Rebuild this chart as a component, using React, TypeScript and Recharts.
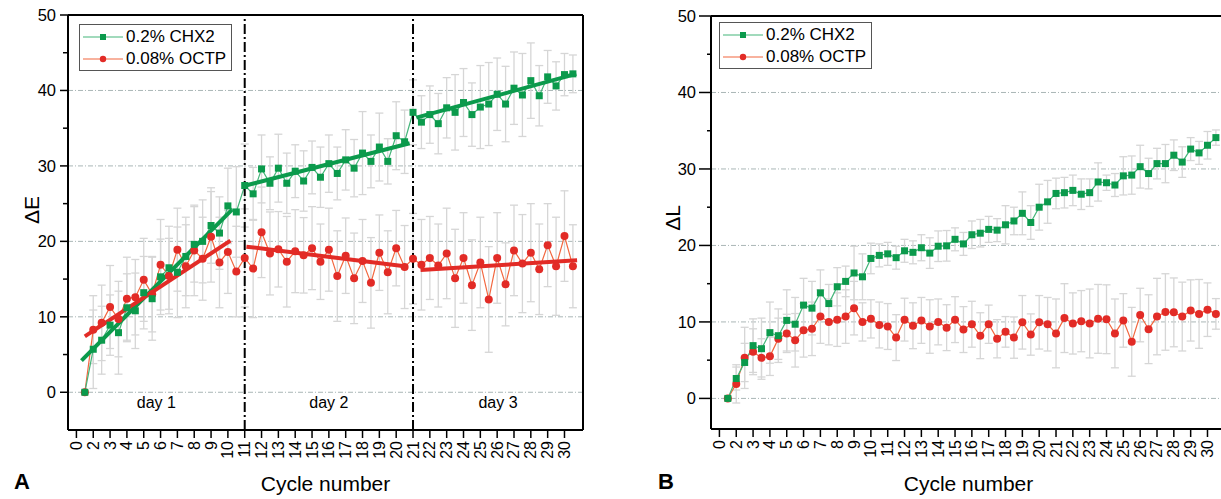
import React from 'react';
import { LineChart, Line, XAxis, YAxis, ErrorBar, ReferenceLine, ReferenceArea, Label } from 'recharts';

const xTickLabels = ['0', '2', '3', '4', '5', '6', '7', '8', '9', '10', '11', '12', '13', '14', '15', '16', '17', '18', '19', '20', '21', '22', '23', '24', '25', '26', '27', '28', '29', '30'];
const seriesNames = ['0.2% CHX2', '0.08% OCTP'];
const yTicks = [0, 5, 10, 15, 20, 25, 30, 35, 40, 45, 50];
const gridValues = [0, 10, 20, 30, 40];

// panel A: ΔE
const chxE = [0, 5.7, 6.9, 8.9, 7.9, 11.2, 10.8, 13.2, 12.4, 15.3, 16.5, 15.9, 18.0, 19.6, 20.0, 22.1, 21.1, 24.7, 23.9, 27.4,
  26.3, 29.6, 27.7, 29.7, 27.7, 29.3, 28.0, 29.8, 28.5, 30.3, 29.0, 30.8, 29.7, 31.7, 30.6, 32.5, 30.6, 34.0, 33.2, 37.1,
  35.8, 36.8, 35.6, 37.7, 37.1, 38.4, 36.8, 37.8, 38.2, 39.5, 38.2, 40.3, 39.4, 41.3, 39.3, 41.8, 40.6, 42.1, 42.2];
const chxEErr = [0, 5.2, 4.5, 4.0, 5.5, 4.5, 5.0, 4.8, 5.5, 5.0, 5.5, 6.0, 5.2, 5.0, 5.5, 5.0, 4.8, 5.0, 6.0, 5.5,
  3.5, 4.5, 3.5, 4.5, 4.0, 3.5, 4.0, 3.5, 4.0, 3.8, 3.5, 4.0, 3.8, 5.5, 3.5, 4.5, 3.0, 4.5, 4.2, 4.3,
  3.5, 3.8, 4.0, 4.0, 5.0, 4.5, 4.2, 5.5, 5.5, 4.8, 5.0, 4.8, 5.5, 5.0, 4.0, 3.5, 3.2, 2.8, 2.5];
const octpE = [0, 8.3, 9.2, 11.3, 9.7, 12.4, 12.6, 14.9, 13.0, 16.9, 15.4, 18.9, 16.7, 18.8, 17.7, 20.6, 17.2, 18.6, 16.0, 17.8,
  16.4, 21.2, 18.4, 18.95, 17.3, 18.7, 18.15, 19.1, 17.3, 18.9, 15.4, 18.1, 15.1, 17.4, 14.5, 18.5, 15.9, 19.1, 16.6, 17.7,
  16.9, 17.8, 16.8, 18.4, 15.1, 17.8, 14.2, 17.2, 12.3, 17.8, 14.3, 18.8, 17.05, 18.5, 16.3, 19.5, 16.7, 20.7, 16.7];
const octpEErr = [0, 4.5, 5.0, 5.5, 5.0, 5.5, 5.0, 5.5, 5.0, 6.0, 5.0, 5.5, 5.5, 6.0, 5.5, 6.0, 6.0, 5.5, 6.0, 6.5,
  6.5, 6.0, 5.5, 5.0, 6.0, 5.5, 5.0, 5.5, 5.0, 5.5, 6.0, 5.0, 6.0, 5.5, 6.0, 5.0, 5.5, 5.0, 5.5, 6.0,
  6.0, 5.5, 5.5, 6.0, 6.5, 6.0, 6.0, 6.0, 7.0, 6.0, 5.5, 6.0, 6.5, 6.5, 6.0, 5.5, 6.5, 6.0, 5.5];

// linear fits per day [x1, y1, x2, y2]
const chxFitsE = [[0.3, 4.2, 9.25, 24.2], [10.05, 27.4, 19.8, 33.0], [20.2, 36.4, 29.7, 42.2]];
const octpFitsE = [[0.5, 7.4, 9.15, 20.1], [10.1, 19.3, 19.5, 16.7], [20.45, 16.2, 29.75, 17.5]];
const dayLabels = ['day 1', 'day 2', 'day 3'];
const dayBounds = [-0.5, 10, 20, 30.1];

// panel B: ΔL
const chxL = [0, 2.6, 4.7, 6.9, 6.5, 8.6, 8.2, 10.2, 9.7, 12.2, 11.8, 13.8, 12.4, 14.6, 15.3, 16.4, 15.9, 18.3, 18.7, 18.9,
  18.4, 19.3, 19.1, 19.7, 19.0, 19.9, 19.95, 20.8, 20.2, 21.4, 21.6, 22.1, 22.0, 22.7, 23.2, 24.2, 23.0, 25.0, 25.7, 26.8,
  26.9, 27.2, 26.7, 26.9, 28.3, 28.2, 27.9, 29.1, 29.2, 30.3, 29.4, 30.7, 30.7, 31.8, 30.9, 32.6, 32.1, 33.1, 34.1];
const chxLErr = [0, 1.5, 2.5, 3.5, 4.0, 4.0, 3.5, 4.0, 3.5, 3.5, 3.5, 3.0, 2.5, 2.5, 2.0, 3.5, 3.0, 2.0, 1.5, 1.5,
  1.5, 1.5, 1.5, 1.7, 2.0, 2.0, 2.0, 1.5, 1.5, 1.8, 1.8, 1.7, 1.5, 2.5, 1.8, 2.8, 2.2, 3.0, 2.8, 2.0,
  2.0, 2.0, 2.0, 1.8, 2.5, 1.0, 1.5, 2.5, 2.5, 2.8, 2.0, 2.0, 2.5, 2.0, 2.0, 1.5, 1.5, 1.8, 1.0];
const octpL = [0, 1.9, 5.3, 6.1, 5.3, 5.5, 7.8, 8.5, 7.6, 8.9, 9.1, 10.7, 10.0, 10.3, 10.7, 11.8, 10.0, 10.4, 9.6, 9.4,
  7.95, 10.3, 9.5, 10.2, 9.4, 10.0, 9.25, 10.3, 9.0, 9.7, 8.2, 9.7, 7.8, 8.7, 7.95, 9.95, 8.35, 9.95, 9.7, 8.5,
  10.5, 9.8, 10.1, 9.8, 10.4, 10.35, 8.5, 10.2, 7.4, 10.9, 9.05, 10.7, 11.3, 11.25, 10.7, 11.5, 11.05, 11.6, 11.05];
const octpLErr = [0, 2.5, 4.0, 3.0, 2.5, 2.5, 2.7, 2.5, 3.5, 3.5, 3.5, 3.5, 3.0, 3.5, 3.5, 3.5, 2.5, 2.5, 3.0, 3.0,
  3.0, 2.8, 3.0, 3.0, 3.5, 3.0, 3.0, 3.0, 3.0, 3.0, 3.0, 2.5, 2.5, 2.0, 2.7, 3.5, 2.7, 3.5, 3.5, 4.5,
  4.5, 4.0, 4.0, 4.5, 4.5, 4.5, 4.5, 3.5, 4.5, 3.5, 4.5, 5.0, 5.0, 4.5, 4.5, 4.0, 4.5, 3.5, 2.0];

const GREEN = '#0b9a4c';
const GREEN_LINE = '#45b57a';
const RED = '#e22b26';
const RED_LINE = '#f2673f';
const ERR = '#d6d6d6';
const FONT = '"Liberation Sans", Arial, sans-serif';
const X_DOMAIN = [-0.5, 30.1];

const squareDot = (p: any) => {
  if (p.cx == null || p.cy == null) return <g key={`s-${p.index}`} />;
  return <rect key={`s-${p.index}`} x={p.cx - 3.5} y={p.cy - 3.5} width={7} height={7} fill={GREEN} />;
};
const circleDot = (p: any) => {
  if (p.cx == null || p.cy == null) return <g key={`c-${p.index}`} />;
  return <circle key={`c-${p.index}`} cx={p.cx} cy={p.cy} r={4} fill={RED} />;
};

const Panel = (props: any) => {
  const { left, top, xAxisHeight, chx, chxErr, octp, octpErr, yMin, majorLen, minorLen, labelGap, chxFits, octpFits, days } = props;
  const data = chx.map((v: number, i: number) => ({
    x: 0.5 + i * 0.5,
    chx: v,
    chxErr: chxErr[i],
    octp: octp[i],
    octpErr: octpErr[i]
  }));

  const yTick = (p: any) => {
    const v = p.payload.value;
    const major = v % 10 === 0;
    const len = major ? majorLen : minorLen;
    return (
      <g key={`yt-${v}`}>
        <line x1={p.x - len} x2={p.x} y1={p.y} y2={p.y} stroke="#000" strokeWidth={1.5} />
        {major && (
          <text x={p.x - len - labelGap} y={p.y} textAnchor="end" dominantBaseline="central" fontSize={16.5} fill="#000">
            {v}
          </text>
        )}
      </g>
    );
  };
  const xTick = (p: any) => {
    const v = p.payload.value;
    const ty = p.y + 11;
    return (
      <g key={`xt-${v}`}>
        <line x1={p.x} x2={p.x} y1={p.y} y2={p.y + 8} stroke="#000" strokeWidth={1.5} />
        <text x={p.x} y={ty} transform={`rotate(-90 ${p.x} ${ty})`} textAnchor="end" dominantBaseline="central" fontSize={16} fill="#000">
          {xTickLabels[v]}
        </text>
      </g>
    );
  };

  return (
    <div style={{ position: 'absolute', left, top: 0 }}>
      <LineChart width={600} height={499} data={data} margin={{ top, right: 17, bottom: 0, left: 0 }}>
        <XAxis dataKey="x" type="number" domain={X_DOMAIN} ticks={xTickLabels.map((_, i) => i)} interval={0} allowDataOverflow
          tickSize={0} tickMargin={0} tickLine={false} axisLine={{ stroke: '#000', strokeWidth: 2 }} height={xAxisHeight} tick={xTick}>
          <Label value="Cycle number" position="insideBottom" offset={8} fontSize={21} fill="#000" />
        </XAxis>
        <YAxis type="number" domain={[yMin, 50]} ticks={yTicks} interval={0} allowDataOverflow width={68}
          tickSize={0} tickMargin={0} tickLine={false} axisLine={{ stroke: '#000', strokeWidth: 2 }} tick={yTick} />
        {gridValues.map((g) => (
          <ReferenceLine key={`g${g}`} y={g} stroke="#aab6b6" strokeWidth={1} strokeDasharray="5 2 1 2" />
        ))}
        <ReferenceLine y={50} stroke="#000" strokeWidth={2} />
        <ReferenceLine x={X_DOMAIN[1]} stroke="#000" strokeWidth={2} />

        <Line dataKey="octp" stroke="none" dot={false} activeDot={false} isAnimationActive={false}>
          <ErrorBar dataKey="octpErr" direction="y" stroke={ERR} strokeWidth={1.3} width={4} isAnimationActive={false} />
        </Line>
        <Line dataKey="chx" stroke="none" dot={false} activeDot={false} isAnimationActive={false}>
          <ErrorBar dataKey="chxErr" direction="y" stroke={ERR} strokeWidth={1.3} width={4} isAnimationActive={false} />
        </Line>
        <Line dataKey="octp" stroke={RED_LINE} strokeWidth={1.2} dot={circleDot} activeDot={false} isAnimationActive={false} />
        <Line dataKey="chx" stroke={GREEN_LINE} strokeWidth={1.2} dot={squareDot} activeDot={false} isAnimationActive={false} />

        {chxFits && chxFits.map((f: number[], i: number) => (
          <Line key={`cf${i}`} data={[{ x: f[0], fit: f[1] }, { x: f[2], fit: f[3] }]} dataKey="fit" stroke={GREEN}
            strokeWidth={4} dot={false} activeDot={false} isAnimationActive={false} />
        ))}
        {octpFits && octpFits.map((f: number[], i: number) => (
          <Line key={`of${i}`} data={[{ x: f[0], fit: f[1] }, { x: f[2], fit: f[3] }]} dataKey="fit" stroke={RED}
            strokeWidth={4} dot={false} activeDot={false} isAnimationActive={false} />
        ))}
        {days && [10, 20].map((d) => (
          <ReferenceLine key={`d${d}`} x={d} stroke="#000" strokeWidth={2} strokeDasharray="10 3 2 3" />
        ))}
        {days && dayLabels.map((lbl, i) => (
          <ReferenceArea key={lbl} x1={dayBounds[i]} x2={dayBounds[i + 1]} y1={-2.6} y2={0} fill="none" stroke="none"
            label={{ value: lbl, position: 'center', fontSize: 16, fill: '#000' }} />
        ))}
      </LineChart>
    </div>
  );
};

const LegendBox = ({ left, top }: { left: number; top: number }) => (
  <div style={{ position: 'absolute', left, top, width: 151, height: 45, border: '1px solid #555', background: '#fff', fontSize: 17 }}>
    {seriesNames.map((name, i) => (
      <div key={name} style={{ display: 'flex', alignItems: 'center', height: 22, marginTop: i === 0 ? 1 : 0 }}>
        <svg width={44} height={22} style={{ marginLeft: 2 }}>
          <line x1={1} x2={41} y1={11} y2={11} stroke={i === 0 ? GREEN_LINE : RED_LINE} strokeWidth={1.2} />
          {i === 0 ? <rect x={18} y={8} width={6} height={6} fill={GREEN} /> : <circle cx={21} cy={11} r={3.2} fill={RED} />}
        </svg>
        <span>{name}</span>
      </div>
    ))}
  </div>
);

const RotLabel = ({ x, y, text }: { x: number; y: number; text: string }) => (
  <div style={{ position: 'absolute', left: x, top: y, transform: 'translate(-50%, -50%) rotate(-90deg)', fontSize: 21, whiteSpace: 'nowrap', lineHeight: 1 }}>
    {text}
  </div>
);

const Letter = ({ x, text }: { x: number; text: string }) => (
  <div style={{ position: 'absolute', left: x, top: 471, fontSize: 22, fontWeight: 'bold', lineHeight: 1 }}>{text}</div>
);

export default function App() {
  return (
    <div style={{ position: 'absolute', left: 0, top: 0, width: 1221, height: 499, overflow: 'hidden', background: '#fff', fontFamily: FONT, color: '#000' }}>
      <Panel left={0} top={15} xAxisHeight={69} chx={chxE} chxErr={chxEErr} octp={octpE} octpErr={octpEErr} yMin={-5}
        majorLen={8} minorLen={5} labelGap={4} chxFits={chxFitsE} octpFits={octpFitsE} days />
      <Panel left={643} top={16} xAxisHeight={70} chx={chxL} chxErr={chxLErr} octp={octpL} octpErr={octpLErr} yMin={-4}
        majorLen={12} minorLen={4} labelGap={3} />
      <LegendBox left={79} top={24} />
      <LegendBox left={719} top={22} />
      <RotLabel x={31} y={210} text="ΔE" />
      <RotLabel x={672} y={218} text="ΔL" />
      <Letter x={14} text="A" />
      <Letter x={658} text="B" />
    </div>
  );
}
